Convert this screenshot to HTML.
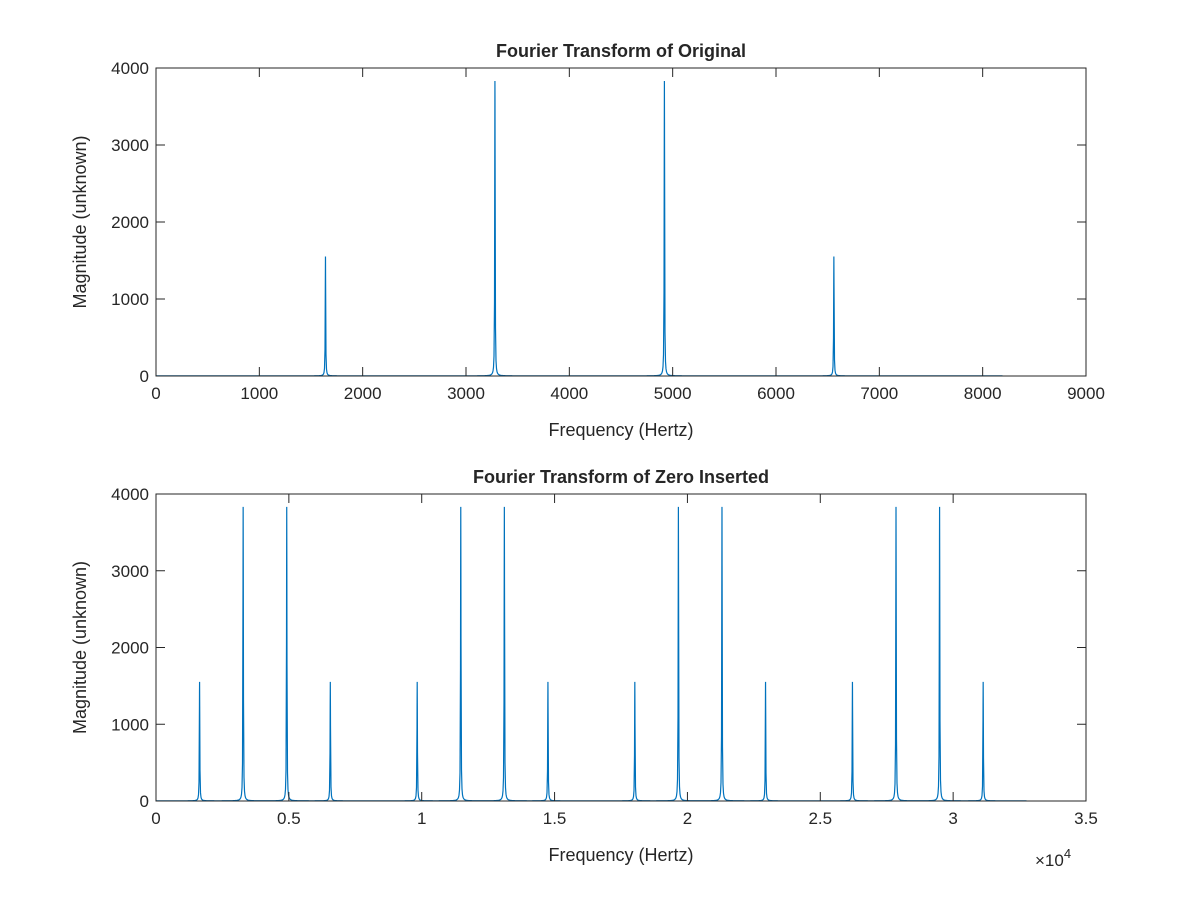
<!DOCTYPE html>
<html><head><meta charset="utf-8"><style>
body{margin:0;background:#fff;font-family:"Liberation Sans",Arial,sans-serif}
svg text{font-family:"Liberation Sans",Arial,sans-serif;fill:#262626}
</style></head><body>
<svg id="fig" width="1200" height="900" xmlns="http://www.w3.org/2000/svg"></svg>
<script>
const topPeakFreqs=[1640,3280,4920,6560];
const topPeakMags=[1550,3830,3830,1550];
const topXTicks=[0,1000,2000,3000,4000,5000,6000,7000,8000,9000];
const topYTicks=[0,1000,2000,3000,4000];
const topFreqMax=8192;
const botPeakFreqs=[1640,3280,4920,6560,9830,11470,13110,14750,18020,19660,21300,22940,26210,27850,29490,31130];
const botPeakMags=[1550,3830,3830,1550,1550,3830,3830,1550,1550,3830,3830,1550,1550,3830,3830,1550];
const botXTicks=[0,0.5,1,1.5,2,2.5,3,3.5];
const botYTicks=[0,1000,2000,3000,4000];
const botFreqMax=32768;

const NS="http://www.w3.org/2000/svg";
const svg=document.getElementById('fig');
function el(tag,attrs,parent){const e=document.createElementNS(NS,tag);for(const k in attrs)e.setAttribute(k,attrs[k]);(parent||svg).appendChild(e);return e;}

function drawAxes(cfg){
  const {L,R,T,B,xmax,ymax,xTicks,xScale,yTicks,freqs,mags,fmax,title,name}=cfg;
  const g=el('g',{});
  
  
  const sx=v=>L+(v/xmax)*(R-L);
  const sy=v=>B-(v/ymax)*(B-T);
  const pts=[];
  const step=xmax/(R-L)/2;
  const samples=[];
  for(let f=0;f<=fmax;f+=step)samples.push(f);
  freqs.forEach(f=>{samples.push(f-step*0.25,f,f+step*0.25);});
  samples.sort((a,b)=>a-b);
  const w=xmax/(R-L)*0.25;
  samples.forEach(f=>{
    let m=2;
    freqs.forEach((pf,i)=>{const d=(f-pf)/w;m+=mags[i]/(1+d*d);});
    pts.push(sx(f).toFixed(2)+','+sy(m).toFixed(2));
  });
  const line=el('polyline',{points:pts.join(' '),fill:'none',stroke:'#0072BD','stroke-width':1.2},g);
  
  
  const box=el('rect',{x:L,y:T,width:R-L,height:B-T,fill:'none',stroke:'#262626','stroke-width':1},g);
  
  
  xTicks.forEach(t=>{
    const x=sx(t*xScale);
    el('line',{x1:x,x2:x,y1:B,y2:B-9,stroke:'#262626'},g);
    el('line',{x1:x,x2:x,y1:T,y2:T+9,stroke:'#262626'},g);
    const tx=el('text',{x:x,y:B+23,'text-anchor':'middle','font-size':17},g);
    tx.textContent=String(t);
    
    
  });
  yTicks.forEach(t=>{
    const y=sy(t);
    el('line',{x1:L,x2:L+9,y1:y,y2:y,stroke:'#262626'},g);
    el('line',{x1:R,x2:R-9,y1:y,y2:y,stroke:'#262626'},g);
    const ty=el('text',{x:L-7,y:y+6,'text-anchor':'end','font-size':17},g);
    ty.textContent=String(t);
    
    
  });
  const tt=el('text',{x:(L+R)/2,y:T-11,'text-anchor':'middle','font-size':18,'font-weight':'bold',fill:'#000'},g);
  tt.textContent=title;
  
  
  const xl=el('text',{x:(L+R)/2,y:B+60,'text-anchor':'middle','font-size':18},g);
  xl.textContent='Frequency (Hertz)';
  
  
  const yl=el('text',{x:0,y:0,'text-anchor':'middle','font-size':18,transform:`translate(${L-70},${(T+B)/2}) rotate(-90)`},g);
  yl.textContent='Magnitude (unknown)';
  
  
  return g;
}
drawAxes({L:156,R:1086,T:68,B:376,xmax:9000,ymax:4000,xTicks:topXTicks,xScale:1,yTicks:topYTicks,freqs:topPeakFreqs,mags:topPeakMags,fmax:topFreqMax,title:'Fourier Transform of Original',name:'top-chart'});
const g2=drawAxes({L:156,R:1086,T:494,B:801,xmax:35000,ymax:4000,xTicks:botXTicks,xScale:10000,yTicks:botYTicks,freqs:botPeakFreqs,mags:botPeakMags,fmax:botFreqMax,title:'Fourier Transform of Zero Inserted',name:'bottom-chart'});
const ex=el('text',{x:1035,y:866,'font-size':17},g2);
ex.innerHTML='×10<tspan dy="-8" font-size="13">4</tspan>';


</script>
</body></html>
